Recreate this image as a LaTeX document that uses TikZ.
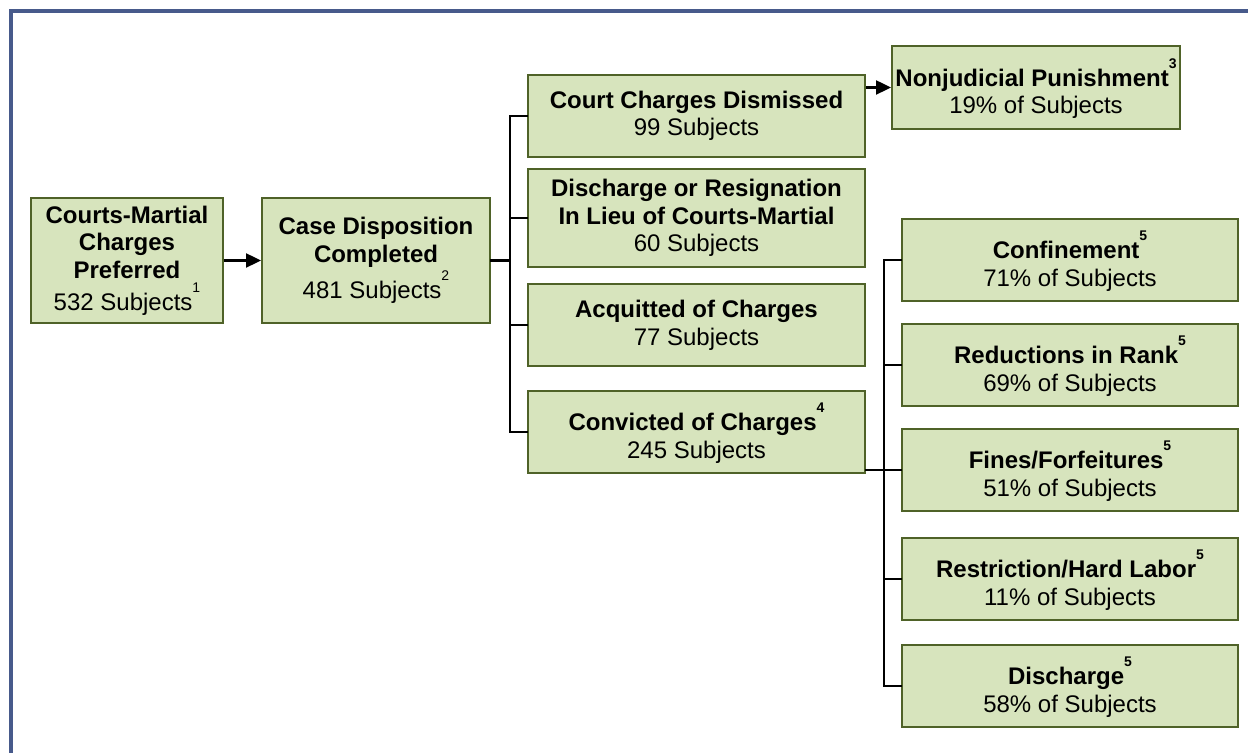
\documentclass[tikz,border=0pt]{standalone}
\usepackage{fontspec}
\setmainfont{Liberation Sans}
\usetikzlibrary{arrows.meta}
\definecolor{boxfill}{HTML}{D7E4BD}
\definecolor{boxline}{HTML}{4F6228}
\definecolor{frameblue}{HTML}{475A8B}
\newcommand{\supnum}[1]{\raisebox{9pt}{\fontsize{7}{8.4}\selectfont\strut #1}}
\begin{document}
\begin{tikzpicture}[x=0.5pt,y=-0.5pt,>={Triangle[length=7.5pt,width=7pt]},
    box/.style={draw=boxline,fill=boxfill,line width=1pt,align=center,inner sep=0pt,
        font=\fontsize{12}{13.8}\selectfont},
    midbox/.style={box,minimum width=168.5pt,minimum height=41pt},
    outbox/.style={box,minimum width=168pt,minimum height=41pt},
    link/.style={line width=1.2pt,line cap=rect}]
    \useasboundingbox (0,0) rectangle (1248,753);
    \draw[frameblue,line width=2pt] (11,770) -- (11,11) -- (1270,11);
    % first two steps
    \node[box,minimum width=96pt,minimum height=62.5pt] (cmp) at (127,260.5)
        {\textbf{Courts-Martial}\\\textbf{Charges}\\\textbf{Preferred}\\532 Subjects\supnum{1}};
    \node[box,minimum width=114pt,minimum height=62.5pt] (cdc) at (376,260.5)
        {\textbf{Case Disposition}\\\textbf{Completed}\\481 Subjects\supnum{2}};
    % outcomes
    \node[midbox] (ccd) at (696.5,116) {\textbf{Court Charges Dismissed}\\99 Subjects};
    \node[midbox,minimum height=49pt] (dor) at (696.5,218)
        {\textbf{Discharge or Resignation}\\\textbf{In Lieu of Courts-Martial}\\60 Subjects};
    \node[midbox] (acq) at (696.5,325) {\textbf{Acquitted of Charges}\\77 Subjects};
    \node[midbox] (con) at (696.5,432) {\textbf{Convicted of Charges\supnum{4}}\\245 Subjects};
    \node[box,minimum width=144pt,minimum height=41.5pt] (njp) at (1036,87.5)
        {\textbf{Nonjudicial Punishment\supnum{3}}\\19\% of Subjects};
    % sentences
    \node[outbox] (conf) at (1070,260) {\textbf{Confinement\supnum{5}}\\71\% of Subjects};
    \node[outbox] (red) at (1070,365) {\textbf{Reductions in Rank\supnum{5}}\\69\% of Subjects};
    \node[outbox] (fin) at (1070,470) {\textbf{Fines/Forfeitures\supnum{5}}\\51\% of Subjects};
    \node[outbox] (res) at (1070,579) {\textbf{Restriction/Hard Labor\supnum{5}}\\11\% of Subjects};
    \node[outbox] (dis) at (1070,686) {\textbf{Discharge\supnum{5}}\\58\% of Subjects};
    % connectors
    \coordinate (lb) at (510,0);
    \coordinate (rb) at (884,0);
    \draw[line width=1.2pt,->] (cmp.east) -- (cdc.west);
    \draw[line width=1.2pt,->] (njp.west -| ccd.east) -- (njp.west);
    \draw[link] (cdc.east) -- (cdc.east -| lb);
    \draw[link] (lb |- ccd.west) -- (lb |- con.west);
    \foreach \n in {ccd,dor,acq,con}
        \draw[link] (lb |- \n.west) -- (\n.west);
    \draw[link] (fin.west -| con.east) -- (fin.west);
    \draw[link] (rb |- conf.west) -- (rb |- dis.west);
    \foreach \n in {conf,red,res,dis}
        \draw[link] (rb |- \n.west) -- (\n.west);
\end{tikzpicture}
\end{document}
